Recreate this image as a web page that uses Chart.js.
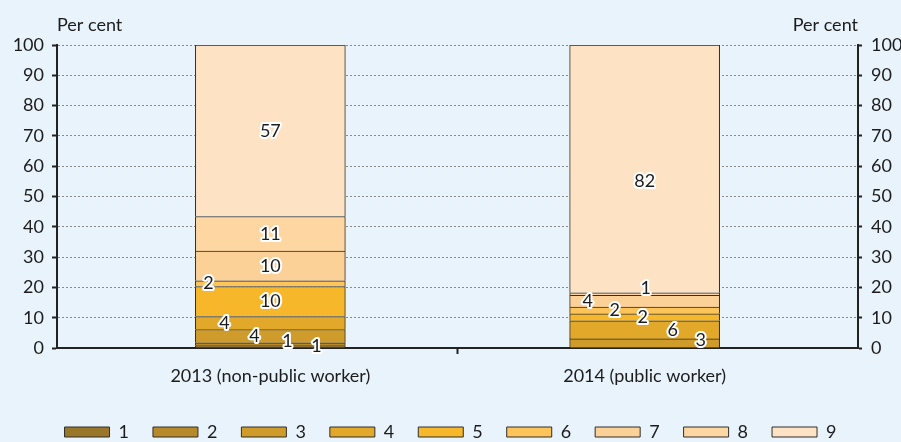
<!DOCTYPE html>
<html>
<head>
<meta charset="utf-8">
<script src="https://cdn.jsdelivr.net/npm/chart.js@4.4.1/dist/chart.umd.min.js"></script>
<style>
  html, body { margin: 0; padding: 0; background: #E8F3FB; }
  #wrap { width: 901px; height: 442px; position: relative; }
</style>
</head>
<body>
<div id="wrap"><canvas id="c"></canvas></div>
<script>
// ---- data ----
const categories = ['2013 (non-public worker)', '2014 (public worker)'];
const seriesNames = ['1', '2', '3', '4', '5', '6', '7', '8', '9'];
const s1 = [0.8, 0];
const s2 = [0.9, 0];
const s3 = [4.4, 3.0];
const s4 = [4.3, 6.0];
const s5 = [9.9, 2.3];
const s6 = [1.9, 2.2];
const s7 = [9.8, 3.9];
const s8 = [11.4, 0.8];
const s9 = [56.6, 81.8];
const axisTitle = 'Per cent';
const yMin = 0, yMax = 100, yStep = 10;

// ---- styles ----
const seriesValues = [s1, s2, s3, s4, s5, s6, s7, s8, s9];
const colors = ['#9A7628', '#B8892A', '#CF9C2B', '#E2A82A', '#F6B72A', '#FCC45A', '#FCD197', '#FDD6A2', '#FDE2C3'];
const FONT = 'Lato, "Open Sans", sans-serif';
const TEXT = '#1c1c1c';
// manual label placement per bar / series: [dx, dy] in px
const labelOffsets = [
  [[46, 0], [17, -3], [-16, 0], [-46, 0], [0, 0], [-62, 0], [0, 0], [0, 0], [0, 0]],
  [[0, 0], [0, 0], [56, -3], [28, 0], [-2, 0], [-30, 0], [-57, 0], [1, -6], [0, 12]]
];

Chart.defaults.font.family = FONT;
Chart.defaults.font.size = 18;
Chart.defaults.color = TEXT;

const datasets = seriesValues.map((vals, i) => ({
  label: seriesNames[i],
  data: vals.map((v, j) => ({ x: j, y: v })),
  backgroundColor: colors[i],
  borderColor: '#2e2e2e',
  borderWidth: 1,
  barThickness: 150
}));

const dataLabels = {
  id: 'dataLabels',
  afterDatasetsDraw(chart) {
    const ctx = chart.ctx;
    ctx.save();
    ctx.font = '18px ' + FONT;
    ctx.textAlign = 'center';
    ctx.textBaseline = 'middle';
    ctx.lineJoin = 'round';
    chart.data.datasets.forEach((ds, di) => {
      const meta = chart.getDatasetMeta(di);
      meta.data.forEach((bar, bi) => {
        const v = ds.data[bi].y;
        if (!v) return;
        const p = bar.getProps(['x', 'y', 'base'], true);
        const off = labelOffsets[bi][di];
        const tx = p.x + off[0];
        const ty = (p.y + p.base) / 2 + off[1];
        const txt = String(Math.round(v));
        ctx.strokeStyle = '#ffffff';
        ctx.lineWidth = 4;
        ctx.strokeText(txt, tx, ty);
        ctx.fillStyle = TEXT;
        ctx.fillText(txt, tx, ty);
      });
    });
    ctx.restore();
  }
};

const axisTitles = {
  id: 'axisTitles',
  afterDraw(chart) {
    const ctx = chart.ctx;
    const a = chart.chartArea;
    ctx.save();
    ctx.font = '18px ' + FONT;
    ctx.fillStyle = TEXT;
    ctx.textBaseline = 'middle';
    ctx.textAlign = 'left';
    ctx.fillText(axisTitle, a.left, a.top - 20);
    ctx.textAlign = 'right';
    ctx.fillText(axisTitle, a.right, a.top - 20);
    ctx.restore();
  }
};

new Chart(document.getElementById('c'), {
  type: 'bar',
  data: { datasets },
  plugins: [dataLabels, axisTitles],
  options: {
    responsive: true,
    maintainAspectRatio: false,
    devicePixelRatio: 1,
    animation: false,
    layout: { padding: { top: 45, left: 0, right: 0, bottom: 0 } },
    plugins: {
      tooltip: { enabled: false },
      legend: {
        position: 'bottom',
        maxHeight: 43,
        labels: { boxWidth: 45, boxHeight: 10, padding: 24, color: TEXT, font: { size: 18 } }
      }
    },
    scales: {
      x: {
        type: 'linear',
        min: -0.57,
        max: 1.57,
        stacked: true,
        offset: false,
        z: 1,
        afterBuildTicks: s => { s.ticks = [{ value: 0 }, { value: 0.5 }, { value: 1 }]; },
        afterFit: s => { s.height = 51; },
        ticks: {
          autoSkip: false, maxRotation: 0, padding: 11,
          callback: v => (categories[v] !== undefined ? categories[v] : '')
        },
        grid: {
          offset: false,
          drawOnChartArea: false, drawTicks: true, tickLength: 6, tickWidth: 2,
          tickColor: c => (c.tick && c.tick.value === 0.5 ? '#222' : 'rgba(0,0,0,0)')
        },
        border: { color: '#222', width: 2 }
      },
      y: {
        position: 'left',
        stacked: true,
        min: yMin, max: yMax,
        afterFit: s => { s.width = 57; },
        ticks: { stepSize: yStep, padding: 8 },
        grid: { color: '#8a8a8a', lineWidth: 1, tickColor: '#222', tickLength: 5, tickWidth: 2 },
        border: { color: '#222', width: 2, dash: [2, 2] }
      },
      y2: {
        position: 'right',
        min: yMin, max: yMax,
        afterFit: s => { s.width = 43; },
        ticks: { stepSize: yStep, padding: 9 },
        grid: { drawOnChartArea: false, tickColor: '#222', tickLength: 4, tickWidth: 2 },
        border: { color: '#222', width: 2 }
      }
    }
  }
});
</script>
</body>
</html>
